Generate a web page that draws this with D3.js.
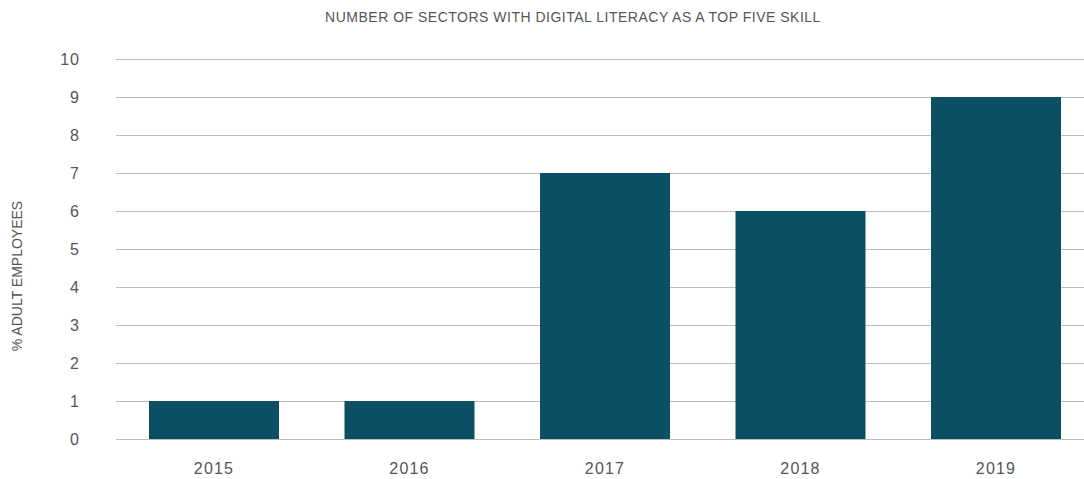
<!DOCTYPE html>
<html>
<head>
<meta charset="utf-8">
<script src="https://cdn.jsdelivr.net/npm/d3@7"></script>
<style>
  body { margin: 0; background: #fff; }
  svg text { font-family: "Liberation Sans", Arial, sans-serif; fill: #555; }
</style>
</head>
<body>
<svg id="chart" width="1084" height="479"></svg>
<script>
const years = ['2015', '2016', '2017', '2018', '2019'];
const sectors = [1, 1, 7, 6, 9];
const yTicks = [0, 1, 2, 3, 4, 5, 6, 7, 8, 9, 10];

const WIDTH = 1084;
const HEIGHT = 479;
const MARGIN = { top: 59, right: 0, bottom: 40, left: 116 };

const svg = d3.select('#chart');

let x = d3
  .scaleBand()
  .domain(years)
  .range([116.25, 1093.75])
  .paddingInner(0.335)
  .paddingOuter(0.1675);

let y = d3.scaleLinear().domain([0, 10]).range([439, 59]);

// gridlines
svg
  .append('g')
  .selectAll('line')
  .data(yTicks)
  .join('line')
  .attr('x1', MARGIN.left)
  .attr('x2', WIDTH)
  .attr('y1', (d) => y(d) + 0.5)
  .attr('y2', (d) => y(d) + 0.5)
  .attr('stroke', '#bdbdbd')
  .attr('stroke-width', 1);

// bars
svg
  .append('g')
  .attr('fill', '#0a4f63')
  .selectAll('rect')
  .data(sectors)
  .join('rect')
  .attr('x', (d, i) => x(years[i]))
  .attr('width', x.bandwidth())
  .attr('y', (d) => y(d))
  .attr('height', (d) => y(0) - y(d));

// y axis labels
let yAxis = svg
  .append('g')
  .attr('transform', 'translate(80, 0)')
  .call(d3.axisLeft(y).tickValues(yTicks).tickSize(0).tickPadding(0));
yAxis.select('.domain').remove();
yAxis.selectAll('text')
  .style('font-size', '16px')
  .style('letter-spacing', '1px')
  .attr('fill', '#555')
  .attr('dy', '0.35em');

// x axis labels
let xAxis = svg
  .append('g')
  .attr('transform', 'translate(0, 468)')
  .call(d3.axisBottom(x).tickSize(0).tickPadding(0));
xAxis.select('.domain').remove();
xAxis.selectAll('text')
  .style('font-size', '16px')
  .style('letter-spacing', '1.2px')
  .attr('fill', '#555')
  .attr('dy', '0.35em');

// title
svg
  .append('text')
  .attr('x', 573)
  .attr('y', 22)
  .attr('text-anchor', 'middle')
  .style('font-size', '14px')
  .style('letter-spacing', '0.5px')
  .text('NUMBER OF SECTORS WITH DIGITAL LITERACY AS A TOP FIVE SKILL');

// y label
svg
  .append('text')
  .attr('transform', 'translate(22, 276) rotate(-90)')
  .attr('text-anchor', 'middle')
  .style('font-size', '14px')
  .text('% ADULT EMPLOYEES');
</script>
</body>
</html>
